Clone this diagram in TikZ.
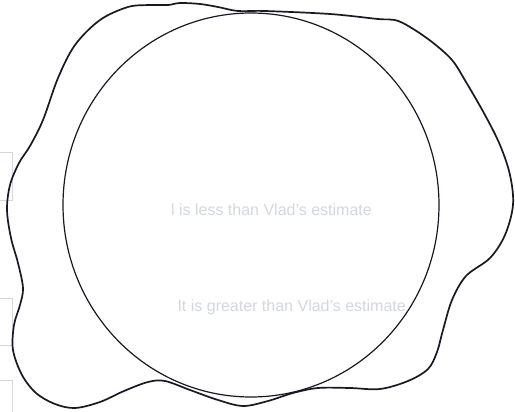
\documentclass[tikz,border=0pt]{standalone}
\usepackage{fontspec}
\setmainfont{Liberation Sans}
\definecolor{faint}{RGB}{212,215,225}
\definecolor{ink}{RGB}{25,25,35}
\begin{document}
\begin{tikzpicture}[x=1pt,y=-1pt,
  faintText/.style={inner sep=0pt,text=faint,font=\fontsize{16}{19}\selectfont},
  outline/.style={draw=ink,line width=1.7pt,line join=round},
  roundshape/.style={draw=ink,line width=1.2pt}]
\useasboundingbox[fill=white] (0,0) rectangle (515,412);
% faint background worksheet text
\node[faintText,anchor=base east] (t1) at (372,215) {l is less than Vlad's estimate};
\node[faintText,anchor=base east] (t2) at (406,311) {It is greater than Vlad's estimate};
% faint answer boxes
\draw[faint,line width=0.8pt] (-2,152) -- (12,152) -- (12,200) -- (-2,200);
\draw[faint,line width=0.8pt] (-2,298) -- (12,298) -- (12,345) -- (-2,345);
\draw[faint,line width=0.8pt] (-2,380) -- (12,380) -- (12,414);
% circle
\draw[roundshape] (251,205) ellipse [x radius=188, y radius=192];
% irregular outline
\draw[outline] plot[smooth cycle, tension=0.55] coordinates {
 (43,120) (58,78) (75,45) (100,20) (128,7) (150,5) (168,5) (180,3) (200,4) (218,7)
 (238,11) (265,11) (330,14) (378,19) (395,20) (410,27) (432,42) (452,60) (466,82)
 (485,115) (500,145) (510,175) (513,205) (505,235) (490,258) (466,276) (452,300)
 (443,330) (437,352) (428,369) (408,381) (380,389) (350,388) (318,388) (293,393)
 (268,401) (243,406) (218,400) (190,390) (165,381) (148,382) (124,391) (100,402)
 (75,408) (55,404) (36,393) (22,375) (13,350) (14,325) (20,305) (23,288) (18,263)
 (11,238) (7,210) (10,185) (19,163) (30,146)};
\end{tikzpicture}
\end{document}
